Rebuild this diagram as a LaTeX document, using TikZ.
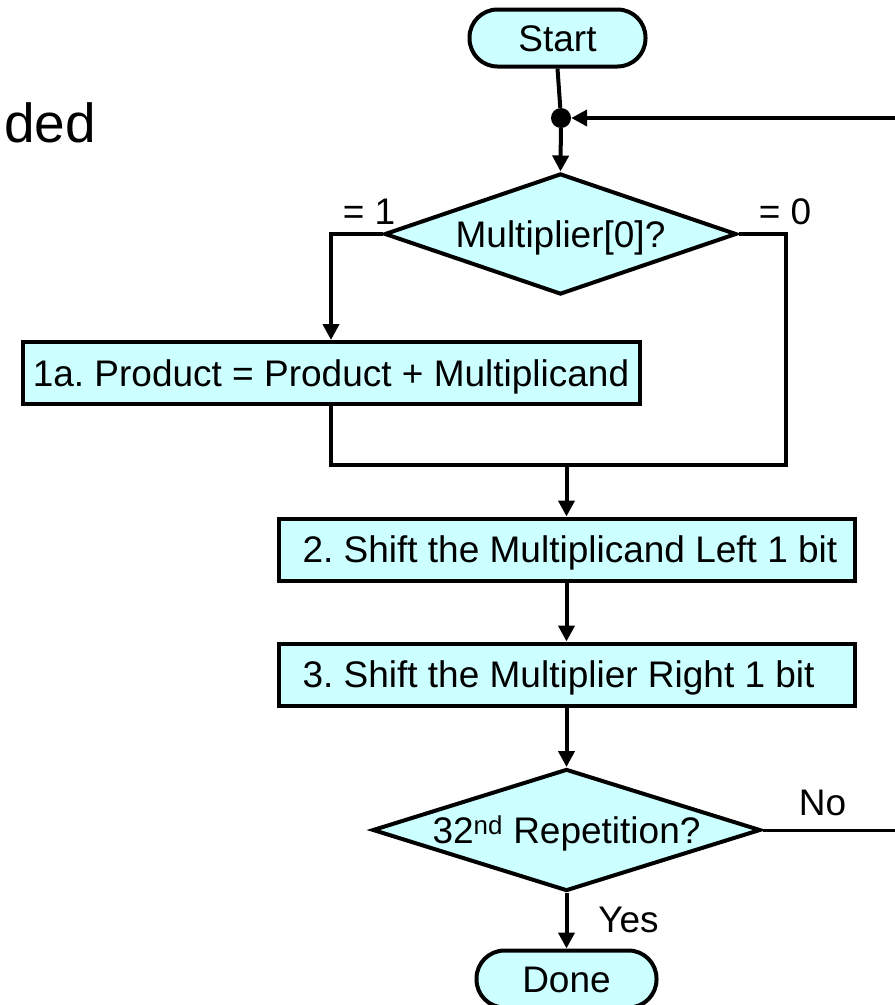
\documentclass[tikz,border=0pt]{standalone}
\usepackage{fontspec}
\setmainfont{Liberation Sans}
\usetikzlibrary{arrows.meta,shapes.geometric}
\definecolor{boxfill}{HTML}{CCFFFF}
\frenchspacing
\newcommand{\lefttext}[1]{\makebox[544pt][l]{\hspace*{8pt}#1}}
\begin{document}
\begin{tikzpicture}[x=1pt,y=-1pt,
  every node/.style={font=\fontsize{37}{44}\selectfont},
  basebox/.style={draw, line width=4pt, fill=boxfill, inner sep=0pt, text height=26.5pt, text depth=0pt},
  termbox/.style={basebox, rectangle, rounded corners=28pt, minimum width=176pt, minimum height=57pt},
  procbox/.style={basebox, rectangle, minimum height=62pt},
  leftbox/.style={procbox, minimum width=576pt},
  decision/.style={basebox, diamond, shape aspect=3.2},
  lbl/.style={inner sep=0pt, text height=26.5pt, text depth=0pt},
  conn/.style={line width=4pt},
  arr/.style={conn, -{Triangle[length=16pt,width=16pt]}},
]
\useasboundingbox (0,0) rectangle (895,1005);

% partial slide title
\node[anchor=base east, inner sep=0pt, font=\fontsize{55}{60}\selectfont] (title) at (96,142) {ded};

% nodes
\node[termbox] (start) at (557.5,38) {Start};
\node[circle, fill=black, inner sep=0pt, minimum size=20pt] (dot) at (561,118) {};
\node[decision, minimum width=352pt, minimum height=121pt] (d1) at (560.5,234) {Multiplier[0]?};
\node[procbox, minimum width=617pt] (b1) at (331,373) {1a. Product = Product + Multiplicand};
\node[leftbox] (b2) at (566.5,549.5) {\lefttext{2. Shift the Multiplicand Left 1 bit}};
\node[leftbox] (b3) at (566.5,674.5) {\lefttext{3. Shift the Multiplier Right 1 bit}};
\node[decision, minimum width=388pt, minimum height=122pt] (d2) at (566.5,830) {32\textsuperscript{nd} Repetition?};
\node[termbox, minimum width=180pt] (done) at (566.5,979) {Done};

% labels
\node[lbl] (l1) at (369,211) {= 1};
\node[lbl] (l0) at (785,211) {= 0};
\node[lbl] (lno) at (822.5,802) {No};
\node[lbl] (lyes) at (628.5,919) {Yes};

% helper coordinates
\coordinate (merge) at (566.5,465);
\coordinate (rc) at (786,465);
\coordinate (retin) at (895,118);
\coordinate (noout) at (895,830);

% connectors
\draw[conn] (start.south) -- (dot);
\draw[arr] (dot) -- (d1.north);
\draw[arr] (retin) -- (dot.east);
\draw[arr] (d1.west) -| (b1.north);
\draw[conn] (b1.south) |- (merge);
\draw[conn] (d1.east) -| (rc) -- (merge);
\draw[arr] (merge) -- (b2.north);
\draw[arr] (b2.south) -- (b3.north);
\draw[arr] (b3.south) -- (d2.north);
\draw[arr] (d2.south) -- (done.north);
\draw[line width=3pt] (d2.east) -- (noout);
\end{tikzpicture}
\end{document}
